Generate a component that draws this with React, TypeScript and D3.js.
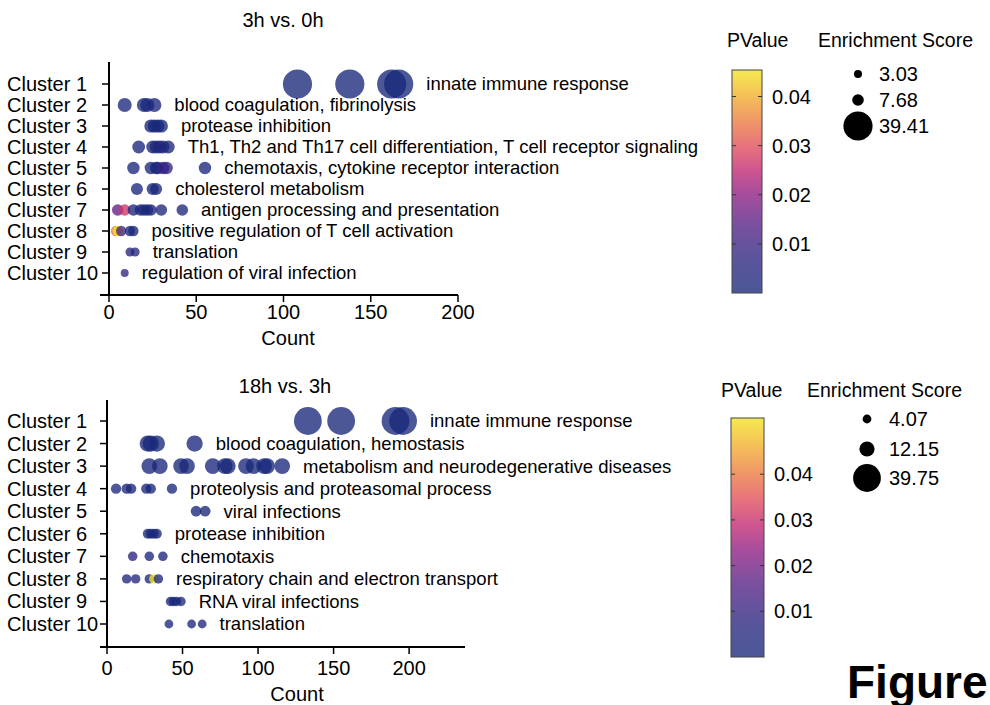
import React from "react";
import * as d3 from "d3";

const clusters = ["Cluster 1", "Cluster 2", "Cluster 3", "Cluster 4", "Cluster 5", "Cluster 6", "Cluster 7", "Cluster 8", "Cluster 9", "Cluster 10"];

// ---- 3h vs. 0h ----
const topTitle = "3h vs. 0h";
const topTerms = [
  "innate immune response",
  "blood coagulation, fibrinolysis",
  "protease inhibition",
  "Th1, Th2 and Th17 cell differentiation, T cell receptor signaling",
  "chemotaxis, cytokine receptor interaction",
  "cholesterol metabolism",
  "antigen processing and presentation",
  "positive regulation of T cell activation",
  "translation",
  "regulation of viral infection",
];
const topScores = [39.41, 12.0, 10.5, 9.8, 9.2, 8.5, 7.68, 6.0, 4.3, 3.03];
const topCounts = [
  [108, 138, 162, 166],
  [9, 20, 22, 26],
  [24, 26, 28, 30],
  [17, 25, 27, 29, 31, 34],
  [14, 24, 27, 28, 31, 33, 55],
  [16, 25, 27],
  [5, 9, 14, 18, 20, 22, 24, 30, 42],
  [4, 5, 7, 12, 14],
  [12, 15],
  [9],
];
const topPValues = [
  [0.0001, 0.0001, 0.0001, 0.0001],
  [0.001, 0.0001, 0.0001, 0.001],
  [0.0001, 0.0001, 0.0002, 0.0005],
  [0.001, 0.0002, 0.0002, 0.001, 0.004, 0.001],
  [0.001, 0.0001, 0.0002, 0.002, 0.009, 0.008, 0.001],
  [0.001, 0.0001, 0.0005],
  [0.016, 0.027, 0.003, 0.002, 0.0005, 0.0005, 0.001, 0.002, 0.002],
  [0.034, 0.0454, 0.011, 0.001, 0.0005],
  [0.006, 0.004],
  [0.009],
];
const topSizeBreaks = [3.03, 7.68, 39.41];
const topXTicks = [0, 50, 100, 150, 200];
const topPMax = 0.0454;

// ---- 18h vs. 3h ----
const bottomTitle = "18h vs. 3h";
const bottomTerms = [
  "innate immune response",
  "blood coagulation, hemostasis",
  "metabolism and neurodegenerative diseases",
  "proteolysis and proteasomal process",
  "viral infections",
  "protease inhibition",
  "chemotaxis",
  "respiratory chain and electron transport",
  "RNA viral infections",
  "translation",
];
const bottomScores = [39.75, 14.5, 13.2, 6.0, 6.5, 5.5, 5.0, 4.9, 4.8, 4.07];
const bottomCounts = [
  [133, 155, 191, 196],
  [27, 29, 33, 58],
  [28, 35, 49, 53, 70, 78, 80, 92, 97, 104, 106, 116],
  [6, 13, 16, 26, 29, 43],
  [59, 65],
  [27, 29, 31, 33],
  [17, 28, 37],
  [13, 19, 28, 31, 34],
  [42, 44, 46, 49],
  [41, 56, 63],
];
const bottomPValues = [
  [0.0001, 0.0001, 0.0001, 0.0001],
  [0.0001, 0.0001, 0.0005, 0.001],
  [0.001, 0.001, 0.0002, 0.0005, 0.001, 0.0002, 0.0002, 0.001, 0.0002, 0.0002, 0.0002, 0.001],
  [0.002, 0.001, 0.0005, 0.001, 0.0002, 0.0005],
  [0.001, 0.0002],
  [0.0005, 0.0002, 0.0002, 0.0005],
  [0.007, 0.001, 0.001],
  [0.003, 0.006, 0.001, 0.0523, 0.001],
  [0.0002, 0.0002, 0.0005, 0.001],
  [0.002, 0.002, 0.002],
];
const bottomSizeBreaks = [4.07, 12.15, 39.75];
const bottomXTicks = [0, 50, 100, 150, 200];
const bottomPMax = 0.0523;

const colorbarTicks = [0.01, 0.02, 0.03, 0.04];

// displayed colour ramp (as seen on the colour bar), bottom -> top
const rampPositions = [0, 0.15, 0.3, 0.45, 0.55, 0.65, 0.78, 0.9, 1];
const rampColors = ["#4b5797", "#5a549c", "#77509f", "#a84d9c", "#cf5590", "#e6707e", "#f09a66", "#f5c556", "#f5ea50"];

const ALPHA = 0.78;
const FONT = "'Liberation Sans', Arial, Helvetica, sans-serif";

function toBase(hex: string): string {
  const c = d3.rgb(hex);
  const f = (v: number) => Math.max(0, Math.min(255, (v - (1 - ALPHA) * 255) / ALPHA));
  return d3.rgb(f(c.r), f(c.g), f(c.b)).formatHex();
}
const baseColors = rampColors.map(toBase);

type PanelProps = {
  id: string;
  title: string;
  terms: string[];
  scores: number[];
  counts: number[][];
  pvalues: number[][];
  sizeBreaks: number[];
  sizeRange: number[];
  xTicks: number[];
  xDomainMax: number;
  pMax: number;
  layout: {
    titleX: number; titleY: number;
    axisX0: number; axisXEnd: number; axisLeft: number;
    axisY: number; axisTop: number; row1: number; row10: number;
    countX: number; countY: number; tickLabelY: number;
    cbX: number; cbW: number; cbTop: number; cbBottom: number;
    pvTitleX: number; esTitleX: number; legTitleY: number;
    sizeCx: number; sizeCys: number[]; sizeLabelX: number;
  };
};

function Panel(p: PanelProps) {
  const L = p.layout;
  const x = d3.scaleLinear().domain([0, p.xDomainMax]).range([L.axisX0, L.axisXEnd]);
  const y = d3.scalePoint<string>().domain(clusters).range([L.row1, L.row10]);
  const r = d3.scaleLinear().domain(p.sizeBreaks).range(p.sizeRange);
  const color = d3
    .scaleLinear<string>()
    .domain(rampPositions.map((t) => t * p.pMax))
    .range(baseColors)
    .interpolate(d3.interpolateRgb)
    .clamp(true);
  const cb = d3.scaleLinear().domain([0, p.pMax]).range([L.cbBottom, L.cbTop]);
  const gradId = "grad-" + p.id;

  return (
    <g>
      <text x={L.titleX} y={L.titleY} textAnchor="middle" fontSize={20} fontFamily={FONT}>{p.title}</text>

      {/* points */}
      {clusters.map((c, i) => (
        <g key={c}>
          {p.counts[i].map((v, j) => (
            <circle key={j} cx={x(v)} cy={y(c)} r={r(p.scores[i])} fill={color(p.pvalues[i][j])} fillOpacity={ALPHA} />
          ))}
          <text
            x={x(d3.max(p.counts[i]) as number) + r(p.scores[i]) + 13}
            y={y(c)}
            dy="0.35em"
            fontSize={18.5}
            fontFamily={FONT}
          >
            {p.terms[i]}
          </text>
        </g>
      ))}

      {/* y axis */}
      <line x1={L.axisX0} x2={L.axisX0} y1={L.axisTop} y2={L.axisY} stroke="#000" strokeWidth={2} />
      {clusters.map((c) => (
        <g key={"yt" + c}>
          <line x1={L.axisX0 - 7} x2={L.axisX0} y1={y(c)} y2={y(c)} stroke="#000" strokeWidth={1.5} />
          <text x={7} y={y(c)} dy="0.35em" fontSize={20} fontFamily={FONT}>{c}</text>
        </g>
      ))}

      {/* x axis */}
      <line x1={L.axisLeft} x2={L.axisXEnd} y1={L.axisY} y2={L.axisY} stroke="#000" strokeWidth={2} />
      {p.xTicks.map((t) => (
        <g key={"xt" + t}>
          <line x1={x(t)} x2={x(t)} y1={L.axisY} y2={L.axisY + 7} stroke="#000" strokeWidth={1.5} />
          <text x={x(t)} y={L.tickLabelY} textAnchor="middle" fontSize={20} fontFamily={FONT}>{t}</text>
        </g>
      ))}
      <text x={L.countX} y={L.countY} textAnchor="middle" fontSize={20} fontFamily={FONT}>Count</text>

      {/* colour legend */}
      <text x={L.pvTitleX} y={L.legTitleY} fontSize={19.5} fontFamily={FONT}>PValue</text>
      <defs>
        <linearGradient id={gradId} x1="0" y1="1" x2="0" y2="0">
          {rampPositions.map((t, k) => (
            <stop key={k} offset={t} stopColor={baseColors[k]} />
          ))}
        </linearGradient>
      </defs>
      <rect x={L.cbX} y={L.cbTop} width={L.cbW} height={L.cbBottom - L.cbTop} fill={"url(#" + gradId + ")"} fillOpacity={ALPHA} />
      <rect x={L.cbX} y={L.cbTop} width={L.cbW} height={L.cbBottom - L.cbTop} fill="none" stroke="#444" strokeWidth={1} />
      {colorbarTicks.map((t) => (
        <g key={"cb" + t}>
          <line x1={L.cbX} x2={L.cbX + 4} y1={cb(t)} y2={cb(t)} stroke="#333" strokeWidth={1} />
          <line x1={L.cbX + L.cbW - 4} x2={L.cbX + L.cbW} y1={cb(t)} y2={cb(t)} stroke="#333" strokeWidth={1} />
          <text x={L.cbX + L.cbW + 10} y={cb(t)} dy="0.35em" fontSize={20} fontFamily={FONT}>{t.toFixed(2)}</text>
        </g>
      ))}

      {/* size legend */}
      <text x={L.esTitleX} y={L.legTitleY} fontSize={19.5} fontFamily={FONT}>Enrichment Score</text>
      {p.sizeBreaks.map((s, k) => (
        <g key={"sz" + s}>
          <circle cx={L.sizeCx} cy={L.sizeCys[k]} r={r(s)} fill="#000" />
          <text x={L.sizeLabelX} y={L.sizeCys[k]} dy="0.35em" fontSize={20} fontFamily={FONT}>{s.toFixed(2)}</text>
        </g>
      ))}
    </g>
  );
}

export default function App() {
  return (
    <svg width={990} height={705} style={{ position: "absolute", left: 0, top: 0, background: "#fff" }}>
      <rect x={0} y={0} width={990} height={705} fill="#fff" />
      <Panel
        id="top"
        title={topTitle}
        terms={topTerms}
        scores={topScores}
        counts={topCounts}
        pvalues={topPValues}
        sizeBreaks={topSizeBreaks}
        sizeRange={[4.0, 5.8, 14.6]}
        xTicks={topXTicks}
        xDomainMax={200}
        pMax={topPMax}
        layout={{
          titleX: 283, titleY: 27,
          axisX0: 109, axisXEnd: 458, axisLeft: 100,
          axisY: 295, axisTop: 62, row1: 84, row10: 273,
          countX: 288, countY: 345, tickLabelY: 319,
          cbX: 732, cbW: 30, cbTop: 70, cbBottom: 293,
          pvTitleX: 727, esTitleX: 818, legTitleY: 47,
          sizeCx: 858, sizeCys: [74, 100, 126], sizeLabelX: 879,
        }}
      />
      <Panel
        id="bottom"
        title={bottomTitle}
        terms={bottomTerms}
        scores={bottomScores}
        counts={bottomCounts}
        pvalues={bottomPValues}
        sizeBreaks={bottomSizeBreaks}
        sizeRange={[4.4, 7.6, 13.9]}
        xTicks={bottomXTicks}
        xDomainMax={237}
        pMax={bottomPMax}
        layout={{
          titleX: 285, titleY: 393,
          axisX0: 107, axisXEnd: 465, axisLeft: 100,
          axisY: 647, axisTop: 400, row1: 421, row10: 624,
          countX: 297, countY: 701, tickLabelY: 675,
          cbX: 731, cbW: 33, cbTop: 418, cbBottom: 657,
          pvTitleX: 721, esTitleX: 807, legTitleY: 397,
          sizeCx: 867, sizeCys: [419, 449, 478], sizeLabelX: 889,
        }}
      />
      <text x={847} y={698} fontSize={46} fontWeight="bold" fontFamily={FONT}>Figure</text>
    </svg>
  );
}
